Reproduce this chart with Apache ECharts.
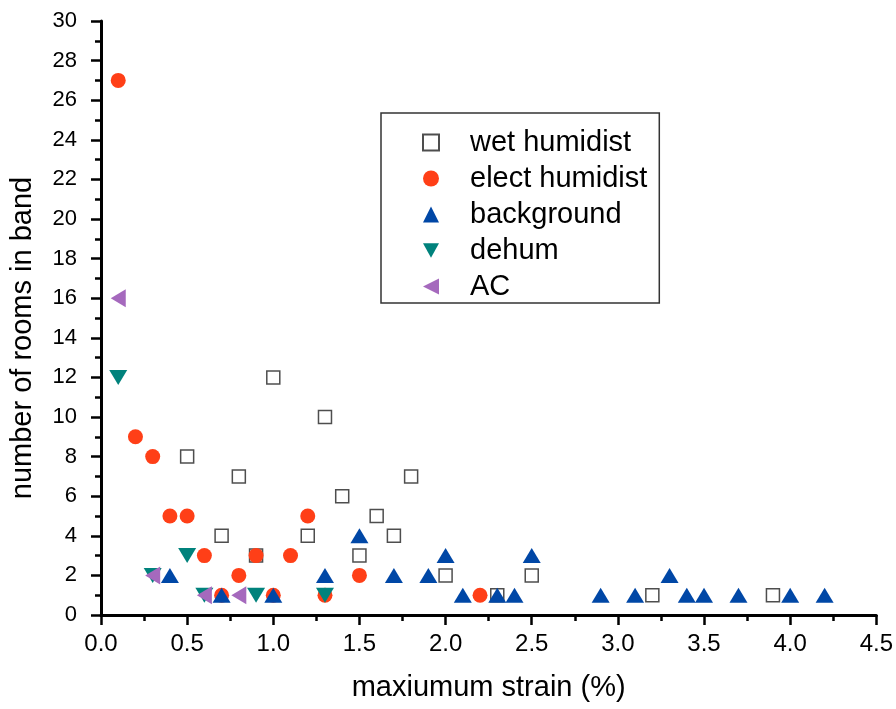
<!DOCTYPE html>
<html>
<head>
<meta charset="utf-8">
<script src="https://cdn.jsdelivr.net/npm/echarts@6/dist/echarts.min.js"></script>
<style>
    html, body { margin: 0; padding: 0; background: #fff; }
    #chart { width: 896px; height: 709px; }
</style>
</head>
<body>
<div id="chart"></div>
<script>
// points, [strain %, rooms]
const wetHumidist = [
    [0.5, 8], [0.7, 4], [0.8, 7], [0.9, 3], [1.0, 12], [1.2, 4], [1.3, 10],
    [1.4, 6], [1.5, 3], [1.6, 5], [1.7, 4], [1.8, 7], [2.0, 2], [2.3, 1],
    [2.5, 2], [3.2, 1], [3.9, 1]
];
const electHumidist = [
    [0.1, 27], [0.2, 9], [0.3, 8], [0.4, 5], [0.5, 5], [0.6, 3], [0.7, 1],
    [0.8, 2], [0.9, 3], [1.0, 1], [1.1, 3], [1.2, 5], [1.3, 1], [1.5, 2], [2.2, 1]
];
const background = [
    [0.4, 2], [0.7, 1], [1.0, 1], [1.3, 2], [1.5, 4], [1.7, 2], [1.9, 2],
    [2.0, 3], [2.1, 1], [2.3, 1], [2.4, 1], [2.5, 3], [2.9, 1], [3.1, 1],
    [3.3, 2], [3.4, 1], [3.5, 1], [3.7, 1], [4.0, 1], [4.2, 1]
];
const dehum = [[0.1, 12], [0.3, 2], [0.5, 3], [0.6, 1], [0.9, 1], [1.3, 1]];
const ac = [[0.1, 16], [0.3, 2], [0.6, 1], [0.8, 1]];

const seriesNames = ['wet humidist', 'elect humidist', 'background', 'dehum', 'AC'];

window.onload = function () {
    let chart = echarts.init(document.getElementById('chart'));

    const leftTri = 'path://M0,5 L10,0 L10,10 Z';
    const downTri = 'path://M0,0 L10,0 L5,9 Z';
    const font = 'Liberation Sans, Arial, sans-serif';

    let axisLineStyle = { color: '#000', width: 3 };
    let tickStyle = { color: '#000', width: 2.5 };

    let option = {
        backgroundColor: '#fff',
        animation: false,
        grid: { left: 98, right: 18, top: 21, bottom: 94 },
        legend: {
            orient: 'vertical',
            left: 381,
            top: 113,
            padding: [15, 12, 2, 41],
            itemGap: 7,
            itemWidth: 16,
            itemHeight: 16,
            borderColor: '#333',
            borderWidth: 1.5,
            textStyle: {
                fontFamily: font,
                fontSize: 29,
                color: '#000',
                padding: [0, 0, 0, 26]
            },
            data: [
                { name: 'wet humidist' },
                { name: 'elect humidist' },
                { name: 'background' },
                { name: 'dehum', icon: downTri },
                { name: 'AC' }
            ]
        },
        xAxis: {
            type: 'value',
            min: 0,
            max: 4.5,
            interval: 0.5,
            name: 'maxiumum strain (%)',
            nameLocation: 'middle',
            nameGap: 58,
            nameTextStyle: { fontFamily: font, fontSize: 29, color: '#000' },
            axisLine: { onZero: false, lineStyle: axisLineStyle },
            axisTick: { length: 10, lineStyle: tickStyle },
            minorTick: { show: true, splitNumber: 2, length: 6, lineStyle: tickStyle },
            axisLabel: {
                fontFamily: font,
                fontSize: 24,
                color: '#000',
                margin: 17,
                formatter: v => v.toFixed(1)
            },
            splitLine: { show: false }
        },
        yAxis: {
            type: 'value',
            min: 0,
            max: 30,
            interval: 2,
            name: 'number of rooms in band',
            nameLocation: 'middle',
            nameGap: 64,
            nameTextStyle: { fontFamily: font, fontSize: 29, color: '#000', padding: [0, 40, 0, 0] },
            axisLine: { onZero: false, lineStyle: axisLineStyle },
            axisTick: { length: 10, lineStyle: tickStyle },
            minorTick: { show: true, splitNumber: 2, length: 6, lineStyle: tickStyle },
            axisLabel: {
                fontFamily: font,
                fontSize: 22,
                color: '#000',
                margin: 24
            },
            splitLine: { show: false }
        },
        series: [
            {
                name: seriesNames[0],
                type: 'scatter',
                data: wetHumidist,
                symbol: 'rect',
                symbolSize: 13,
                itemStyle: { color: '#fff', borderColor: '#222', borderWidth: 1.5 }
            },
            {
                name: seriesNames[1],
                type: 'scatter',
                data: electHumidist,
                symbol: 'circle',
                symbolSize: 15,
                itemStyle: { color: '#ff3f17', opacity: 1 }
            },
            {
                name: seriesNames[2],
                type: 'scatter',
                data: background,
                symbol: 'triangle',
                symbolSize: [18, 15],
                itemStyle: { color: '#0047a6', opacity: 1 }
            },
            {
                name: seriesNames[3],
                type: 'scatter',
                data: dehum,
                symbol: downTri,
                symbolSize: [18, 15],
                itemStyle: { color: '#00827c', opacity: 1 }
            },
            {
                name: seriesNames[4],
                type: 'scatter',
                data: ac,
                symbol: leftTri,
                symbolSize: [15, 18],
                itemStyle: { color: '#a569bd', opacity: 1 }
            }
        ]
    };

    chart.setOption(option);
};
</script>
</body>
</html>
